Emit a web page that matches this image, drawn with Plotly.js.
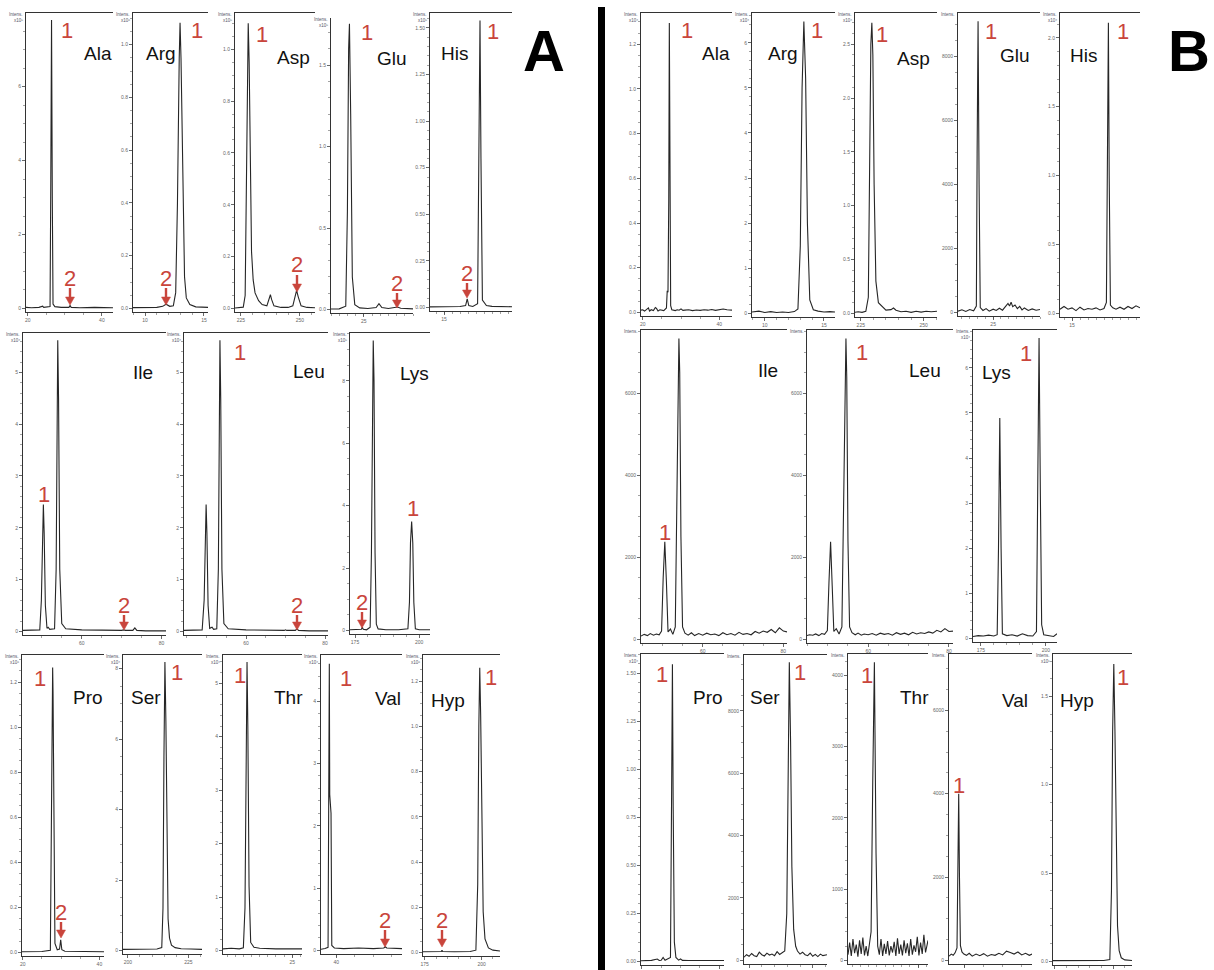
<!DOCTYPE html>
<html><head><meta charset="utf-8">
<script src="https://cdn.plot.ly/plotly-3.0.1.min.js"></script>
<style>html,body{margin:0;padding:0;background:#fff}#chart{width:1214px;height:970px}</style>
</head><body><div id="chart"></div>
<script>
// ---------- Panel A (sample) chromatogram data ----------
const aAlaX=[19.5,21,23,24,24.3,25,26.0,26.2,26.4,26.6,26.8,27.3,29,31.1,31.4,31.7,34,38,43];
const aAlaY=[0.03,0.02,0.03,0.06,0.03,0.03,0.05,3.5,7.8,3.0,0.12,0.05,0.03,0.03,0.08,0.03,0.02,0.03,0.02];
const aArgX=[8.98,10,11,11.5,11.78,12.1,12.4,12.6,12.75,12.9,12.97,13.05,13.2,13.35,13.5,13.8,14.3,15.34];
const aArgY=[0.003,0.003,0.004,0.008,0.016,0.008,0.01,0.06,0.4,0.95,1.083,0.95,0.45,0.12,0.04,0.015,0.006,0.004];
const aAspX=[222.5,224,226,226.8,227.4,227.8,228.1,228.5,229,229.5,230.2,231,232.5,234,236,237,237.5,238,239,242,245,247,248,248.6,249.3,250.5,253,256.4];
const aAspY=[0.002,0.003,0.005,0.05,0.5,1.0,1.10,0.95,0.5,0.22,0.11,0.06,0.03,0.015,0.01,0.035,0.053,0.035,0.01,0.004,0.004,0.01,0.045,0.07,0.045,0.01,0.004,0.003];
const aGluX=[21,22,22.8,23.0,23.15,23.25,23.4,23.6,23.9,24.5,25.5,26.5,26.85,27.2,28,28.8,29.1,29.5,31];
const aGluY=[0.003,0.004,0.02,0.6,1.6,1.755,1.2,0.2,0.03,0.01,0.006,0.012,0.036,0.012,0.006,0.01,0.015,0.008,0.004];
const aHisX=[13.25,15,17,17.7,17.9,18.1,18.6,19.2,19.38,19.5,19.62,19.8,20.3,21,23.5];
const aHisY=[0.003,0.004,0.005,0.01,0.046,0.01,0.005,0.02,0.8,1.54,0.8,0.04,0.01,0.006,0.004];
const aIleX=[45.3,48,49.5,49.9,50.2,50.4,50.6,50.9,51.3,51.6,52,53.2,53.6,53.85,54.0,54.2,54.5,55,56,60,65,70,70.5,71,72.8,73.3,73.8,76,81.1];
const aIleY=[0.02,0.02,0.03,0.6,1.9,2.45,1.9,0.5,0.06,0.08,0.04,0.05,1.2,4.5,5.62,4.5,1.2,0.15,0.05,0.03,0.02,0.02,0.03,0.02,0.02,0.07,0.02,0.01,0.01];
const aLeuX=[44.3,47,48.9,49.4,49.7,49.9,50.1,50.4,50.8,51.4,51.8,52.6,53.0,53.25,53.4,53.6,53.9,54.4,55.5,60,65,69.7,70,70.3,72.5,72.9,73.3,76,80.76];
const aLeuY=[0.02,0.02,0.03,0.6,1.9,2.45,1.9,0.5,0.06,0.08,0.04,0.05,1.2,4.5,5.62,4.5,1.2,0.15,0.05,0.03,0.02,0.02,0.03,0.02,0.02,0.05,0.02,0.01,0.01];
const aLysX=[173.05,176,177.5,177.85,178.2,179.5,180.9,181.4,181.8,182.1,182.4,182.8,183.3,184,187,192,195.6,196.2,196.6,197.05,197.5,197.9,198.5,200,204.2];
const aLysY=[0.02,0.02,0.04,0.1,0.04,0.02,0.1,2.5,8.0,9.29,8.0,2.5,0.2,0.05,0.02,0.02,0.05,0.9,2.8,3.49,2.8,0.9,0.05,0.02,0.02];
const aProX=[19.8,22,25,27.2,27.5,27.7,27.8,27.9,28.1,28.4,29,29.6,29.9,30.2,31,35,41.2];
const aProY=[0.003,0.003,0.004,0.01,0.5,1.15,1.264,1.15,0.5,0.04,0.012,0.015,0.056,0.012,0.005,0.004,0.003];
const aSerX=[198,203,208,212,214,214.5,214.9,215.3,215.7,216.1,216.6,217.2,218,219.5,222,226,230.6];
const aSerY=[0.03,0.03,0.03,0.04,0.08,1.2,5.5,8.19,6.5,3.0,0.9,0.35,0.15,0.08,0.05,0.04,0.03];
const aThrX=[16.5,17.5,18.5,19.0,19.2,19.35,19.45,19.55,19.7,19.9,20.3,21,23,26.2];
const aThrY=[0.03,0.04,0.03,0.05,0.8,4.0,5.40,4.2,1.2,0.15,0.06,0.04,0.03,0.03];
const aValX=[35.9,37,37.8,38.0,38.14,38.25,38.4,38.6,38.8,39.5,42,46,50,52.8,53.2,53.6,57.7];
const aValY=[0.02,0.03,0.05,2.0,4.6,2.5,2.3,2.2,0.08,0.04,0.03,0.04,0.03,0.04,0.06,0.04,0.03];
const aHypX=[174.25,180,182.3,182.6,182.9,188,195,197.5,198.3,198.8,199.2,199.6,200.1,200.7,201.5,203,205,208.1];
const aHypY=[0.003,0.003,0.004,0.01,0.004,0.003,0.004,0.01,0.3,1.0,1.26,1.05,0.55,0.18,0.06,0.02,0.01,0.006];

// ---------- Panel B (standard) chromatogram data ----------
const bAlaX=[19.56,20,20.5,21,21.5,21.8,22.2,22.8,23.3,23.6,24,24.5,25,25.5,26.2,26.4,26.6,26.8,26.95,27.1,27.3,27.6,28,28.5,29,29.5,30,30.5,31,32,33,34,35,36,37,38,39,40,41,42,43.3];
const bAlaY=[0.01,0.012,0.006,0.015,0.02,0.006,0.012,0.008,0.022,0.018,0.006,0.012,0.01,0.008,0.02,0.097,0.09,0.5,1.295,0.4,0.03,0.012,0.01,0.008,0.012,0.01,0.016,0.009,0.01,0.012,0.008,0.011,0.009,0.012,0.01,0.013,0.009,0.011,0.015,0.012,0.01];
const bArgX=[8.92,9.5,10,10.5,11,11.5,12,12.5,12.8,13.0,13.15,13.3,13.45,13.6,13.8,14.1,14.5,15,15.5,15.93];
const bArgY=[0.03,0.05,0.02,0.04,0.02,0.03,0.02,0.04,0.1,1.5,5.0,6.47,5.2,2.0,0.3,0.08,0.05,0.03,0.04,0.03];
const bAspX=[222.7,224,225.5,227,228,228.6,229.0,229.4,229.8,230.3,231,232,233.5,235,237,238,239,241,243,245,247,249,251,253,255.3];
const bAspY=[0.01,0.015,0.01,0.02,0.15,1.5,2.5,2.70,2.4,1.2,0.3,0.1,0.06,0.03,0.035,0.05,0.03,0.015,0.02,0.01,0.02,0.012,0.02,0.015,0.02];
const bGluX=[20.5,21,21.5,22,22.5,22.85,22.95,23.07,23.2,23.35,23.7,24.1,24.5,25,25.4,25.8,26.2,26.6,26.9,27.1,27.3,27.5,27.8,28.1,28.4,28.7,29,29.5,30,30.5,31];
const bGluY=[40,80,30,90,50,200,5000,9100,4000,150,60,120,40,100,60,130,70,180,280,200,320,180,230,120,190,80,140,60,110,70,90];
const bHisX=[13.5,14,14.5,15,15.5,16,16.5,17,17.5,18,18.5,19,19.3,19.45,19.55,19.65,19.8,20.1,20.5,21,21.5,22,22.5,23,23.5];
const bHisY=[0.03,0.05,0.03,0.04,0.02,0.045,0.025,0.035,0.03,0.04,0.025,0.035,0.08,1.2,2.11,1.0,0.06,0.04,0.03,0.045,0.03,0.05,0.035,0.055,0.04];
const bIleX=[44.7,45.5,46.3,47,47.8,48.5,49.2,49.8,50.2,50.6,51.0,51.4,52,52.6,53.2,53.6,53.9,54.1,54.3,54.6,55,55.6,56.4,57.2,58,59,60,61,62,63,64,65,66,67,68,69,70,71,72,73,74,75,76,77,78,79,80,80.9];
const bIleY=[80,120,90,140,100,130,110,200,1500,2380,1400,180,250,120,300,4000,6800,7340,6500,2500,300,150,100,160,90,140,100,150,110,130,90,160,110,140,100,170,120,140,110,190,150,200,170,240,160,280,200,180];
const bLeuX=[44.86,45.5,46.3,47,47.8,48.5,49.2,49.9,50.3,50.7,51.1,51.5,52.1,52.8,53.5,54.0,54.3,54.5,54.7,55.0,55.4,56,56.8,57.5,58.3,59,60,61,62,63,64,65,66,67,68,69,70,71,72,73,74,75,76,77,78,79,80,81.0];
const bLeuY=[90,110,100,130,90,140,120,210,1400,2380,1300,190,260,130,300,4000,6800,7340,6400,2400,300,160,110,150,100,130,110,140,100,150,120,140,100,160,120,150,110,170,130,160,140,180,150,220,180,260,190,200];
const bLysX=[172,174,176,178,180,181.3,181.8,182.3,182.8,183.3,185,187,189,191,193,195,196.4,196.9,197.4,197.9,198.4,199.2,201,203,204.3];
const bLysY=[0.04,0.06,0.05,0.07,0.05,0.08,2.0,4.89,2.0,0.1,0.06,0.08,0.05,0.1,0.06,0.05,0.15,3.0,6.66,3.2,0.3,0.08,0.06,0.04,0.1];
const bProX=[19.8,21,22.5,24,24.5,25,25.5,26,27.4,27.7,27.9,28.1,28.4,28.8,29.5,30,30.5,32,35,38,41.2];
const bProY=[0.003,0.004,0.005,0.012,0.004,0.005,0.02,0.005,0.02,0.9,1.546,0.8,0.1,0.02,0.006,0.012,0.005,0.004,0.005,0.004,0.004];
const bSerX=[198,199,200,201,202,203,204,205,206,207,208,209,210,211,212,213,214,214.8,215.3,215.8,216.3,216.8,217.5,218.3,219,220,221,222,223,224,225,226,227,228,229,230.6];
const bSerY=[100,180,130,220,150,120,260,180,140,230,170,200,150,280,190,240,300,1500,6500,9560,7000,3000,1000,450,300,200,260,180,150,230,130,190,120,200,150,180];
const bThrX=[16.5,16.7,16.9,17.1,17.3,17.5,17.7,17.9,18.1,18.3,18.5,18.7,18.9,19.1,19.3,19.5,19.7,19.9,20.1,20.3,20.5,20.7,20.9,21.1,21.3,21.5,21.7,21.9,22.1,22.3,22.5,22.7,22.9,23.1,23.3,23.5,23.7,23.9,24.1,24.3,24.5,24.7,24.9,25.1,25.3,25.5,25.7,25.9,26.2];
const bThrY=[80,250,60,300,100,220,50,280,90,320,70,200,60,250,400,2500,4183,1500,200,80,300,60,230,90,270,70,200,110,260,60,310,90,220,70,280,100,240,60,300,80,210,120,330,70,250,90,360,110,280];
const bValX=[35.9,36.5,37,37.5,38.0,38.25,38.45,38.65,38.9,39.3,39.8,40.5,41.2,42,43,44,45,46,47,48,49,50,51,52,53,54,55,56,57,57.7];
const bValY=[100,150,120,180,300,3000,4000,2000,350,200,150,120,170,100,150,110,160,100,140,120,170,130,220,190,150,200,130,170,120,150];
const bHypX=[174.25,180,186,192,196,198.6,199.3,199.8,200.3,200.8,201.3,201.9,202.6,203.5,205,208.1];
const bHypY=[0.004,0.004,0.005,0.004,0.005,0.01,0.4,1.3,1.683,1.3,0.6,0.2,0.06,0.02,0.008,0.005];

// ---------- figure construction ----------
const W=1214, H=970;
const F='"Liberation Sans", Arial, sans-serif';
const RED='#c9453c';
const panels=[
 {x:aAlaX,y:aAlaY,box:[26,113,13,312],xr:[19.5,43],top:7.99,xdt:20,xm:5,ydt:2,yf:'d',ym:0.5,ex:'⁵',name:['Ala',98,53],one:[67,30],two:[70,278,305]},
 {x:aArgX,y:aArgY,box:[133,208,13,312],xr:[8.98,15.34],top:1.12,xdt:5,xm:1,ydt:0.2,yf:'.1f',ym:0.05,ex:'⁶',name:['Arg',161,53],one:[197,31],two:[166,278,305]},
 {x:aAspX,y:aAspY,box:[235,315,13,312],xr:[222.5,256.4],top:1.14,xdt:25,xm:5,ydt:0.2,yf:'.1f',ym:0.05,ex:'⁵',name:['Asp',293,57],one:[262,35],two:[297,265,292]},
 {x:aGluX,y:aGluY,box:[331,413,18,313],xr:[21,31],top:1.79,xv:[25],xm:1,ydt:0.5,yf:'.1f',ym:0.1,ex:'⁵',noTop:true,name:['Glu',392,58],one:[367,33],two:[397,283,308]},
 {x:aHisX,y:aHisY,box:[430,512,13,311],xr:[13.25,23.5],top:1.58,xv:[15],xm:1,ydt:0.25,yf:'.2f',ym:0.05,ex:'⁵',name:['His',454,53],one:[493,32],two:[467,273,298]},
 {x:aIleX,y:aIleY,box:[23,166,333,635],xr:[45.3,81.1],top:5.76,xdt:20,xm:5,ydt:1,yf:'d',ym:0.2,ex:'⁴',name:['Ile',143,373],one:[44,495],two:[124,605,630]},
 {x:aLeuX,y:aLeuY,box:[184,328,333,635],xr:[44.3,80.76],top:5.76,xdt:20,xm:5,ydt:1,yf:'d',ym:0.2,ex:'⁴',name:['Leu',309,372],one:[240,352],two:[297,605,630]},
 {x:aLysX,y:aLysY,box:[350,430,333,634],xr:[173.05,204.2],top:9.53,xdt:25,xm:5,ydt:2,yf:'d',ym:0.5,ex:'⁵',name:['Lys',414,374],one:[413,508],two:[362,602,628]},
 {x:aProX,y:aProY,box:[22,104,655,956],xr:[19.8,41.2],top:1.32,xdt:20,xm:5,ydt:0.2,yf:'.1f',ym:0.05,ex:'⁶',name:['Pro',88,697],one:[40,678],two:[61,912,938]},
 {x:aSerX,y:aSerY,box:[123,202,655,954],xr:[198,230.6],top:8.39,xdt:25,xm:5,ydt:2,yf:'d',ym:0.5,ex:'⁴',name:['Ser',146,697],one:[177,672]},
 {x:aThrX,y:aThrY,box:[223,302,655,954],xr:[16.5,26.2],top:5.53,xv:[25],xm:1,ydt:1,yf:'d',ym:0.2,ex:'⁴',name:['Thr',288,697],one:[240,675]},
 {x:aValX,y:aValY,box:[321,402,655,954],xr:[35.9,57.7],top:4.74,xv:[40],xm:5,ydt:1,yf:'d',ym:0.2,ex:'⁴',name:['Val',388,698],one:[346,678],two:[385,920,947]},
 {x:aHypX,y:aHypY,box:[423,500,655,956],xr:[174.25,208.1],top:1.316,xdt:25,xm:5,ydt:0.2,yf:'.1f',ym:0.05,ex:'⁶',name:['Hyp',448,700],one:[491,677],two:[442,920,947]},
 {x:bAlaX,y:bAlaY,box:[641,732,13,316],xr:[19.56,43.3],top:1.34,xdt:20,xm:5,ydt:0.2,yf:'.1f',ym:0.05,ex:'⁴',name:['Ala',716,53],one:[687,30]},
 {x:bArgX,y:bArgY,box:[752,835,13,317],xr:[8.92,15.93],top:6.66,xdt:5,xm:1,ydt:1,yf:'d',ym:0.2,ex:'⁴',name:['Arg',783,53],one:[817,30]},
 {x:bAspX,y:bAspY,box:[855,937,13,317],xr:[222.7,255.3],top:2.79,xdt:25,xm:5,ydt:0.5,yf:'.1f',ym:0.1,ex:'⁴',name:['Asp',913,58],one:[882,35]},
 {x:bGluX,y:bGluY,box:[958,1040,13,316],xr:[20.5,31],top:9360,xv:[25],xm:1,ydt:2000,yf:'d',ym:500,ex:'',name:['Glu',1015,55],one:[991,32]},
 {x:bHisX,y:bHisY,box:[1060,1140,13,317],xr:[13.5,23.5],top:2.18,xv:[15],xm:1,ydt:0.5,yf:'.1f',ym:0.1,ex:'⁴',name:['His',1083,55],one:[1123,32]},
 {x:bIleX,y:bIleY,box:[641,787,330,643],xr:[44.7,80.9],top:7545,xdt:20,xm:5,ydt:2000,yf:'d',ym:500,ex:'',name:['Ile',768,370],one:[665,532]},
 {x:bLeuX,y:bLeuY,box:[807,953,330,643],xr:[44.86,81.0],top:7545,xdt:20,xm:5,ydt:2000,yf:'d',ym:500,ex:'',name:['Leu',925,370],one:[862,352]},
 {x:bLysX,y:bLysY,box:[973,1057,330,642],xr:[172,204.3],top:6.84,xdt:25,xm:5,ydt:1,yf:'d',ym:0.2,ex:'⁴',name:['Lys',997,373],one:[1026,353]},
 {x:bProX,y:bProY,box:[641,724,654,965],xr:[19.8,41.2],top:1.60,xdt:20,xm:5,ydt:0.25,yf:'.2f',ym:0.05,ex:'⁴',noXLab:true,name:['Pro',708,697],one:[662,674]},
 {x:bSerX,y:bSerY,box:[744,827,655,964],xr:[198,230.6],top:9790,xdt:25,xm:5,ydt:2000,yf:'d',ym:500,ex:'',noXLab:true,name:['Ser',765,697],one:[800,672]},
 {x:bThrX,y:bThrY,box:[848,928,654,964],xr:[16.5,26.2],top:4300,xv:[25],xm:1,ydt:1000,yf:'d',ym:200,ex:'',noXLab:true,name:['Thr',914,697],one:[867,675]},
 {x:bValX,y:bValY,box:[949,1032,654,964],xr:[35.9,57.7],top:7355,xv:[40],xm:5,ydt:2000,yf:'d',ym:500,ex:'',noXLab:true,name:['Val',1015,700],one:[959,785]},
 {x:bHypX,y:bHypY,box:[1053,1132,654,965],xr:[174.25,208.1],top:1.74,xdt:25,xm:5,ydt:0.5,yf:'.1f',ym:0.1,ex:'⁵',noXLab:true,name:['Hyp',1077,700],one:[1123,677]}
];

const PX=v=>v/W, PY=v=>1-v/H;
const traces=[];
const layout={width:W,height:H,margin:{l:0,r:0,t:0,b:0,pad:0},paper_bgcolor:'#ffffff',plot_bgcolor:'rgba(0,0,0,0)',
  showlegend:false,font:{family:F},annotations:[],shapes:[]};

panels.forEach((p,i)=>{
  const s=i===0?'':String(i+1);
  traces.push({type:'scatter',mode:'lines',x:p.x,y:p.y,xaxis:'x'+s,yaxis:'y'+s,
    line:{color:'#262626',width:1.1},hoverinfo:'skip'});
  const tf={size:5,color:'#666',family:F};
  const xa={domain:[PX(p.box[0]),PX(p.box[1])],anchor:'y'+s,range:p.xr,showline:true,linecolor:'#333',linewidth:1,
    mirror:p.noTop?false:true,ticks:'outside',ticklen:3,tickwidth:0.8,tickcolor:'#444',tickfont:tf,
    showticklabels:!p.noXLab,showgrid:false,zeroline:false,fixedrange:true,
    minor:{tickmode:'linear',tick0:0,dtick:p.xm,ticks:'outside',ticklen:2,tickwidth:0.6,tickcolor:'#666',showgrid:false}};
  if(p.xv){xa.tickmode='array';xa.tickvals=p.xv;xa.ticktext=p.xv.map(String);}
  else{xa.tickmode='linear';xa.tick0=0;xa.dtick=p.xdt;}
  const ya={domain:[PY(p.box[3]),PY(p.box[2])],anchor:'x'+s,range:[-0.012*p.top,p.top],showline:true,linecolor:'#333',linewidth:1,
    mirror:false,ticks:'outside',ticklen:3,tickwidth:0.8,tickcolor:'#444',tickfont:tf,tickmode:'linear',tick0:0,dtick:p.ydt,
    tickformat:p.yf,showgrid:false,zeroline:false,fixedrange:true,
    minor:{tickmode:'linear',tick0:0,dtick:p.ym,ticks:'outside',ticklen:2,tickwidth:0.6,tickcolor:'#666',showgrid:false}};
  layout['xaxis'+s]=xa; layout['yaxis'+s]=ya;

  // amino-acid name
  layout.annotations.push({xref:'paper',yref:'paper',x:PX(p.name[1]),y:PY(p.name[2]),text:p.name[0],showarrow:false,
    xanchor:'center',yanchor:'middle',font:{size:19,color:'#111',family:F}});
  // red peak label "1"
  layout.annotations.push({xref:'paper',yref:'paper',x:PX(p.one[0]),y:PY(p.one[1]),text:'1',showarrow:false,
    xanchor:'center',yanchor:'middle',font:{size:22,color:RED,family:F}});
  // red "2" with a downward arrow (shaft + head drawn as shapes)
  if(p.two){
    const [tx,ty,tip]=p.two;
    layout.annotations.push({xref:'paper',yref:'paper',x:PX(tx),y:PY(ty),text:'2',showarrow:false,
      xanchor:'center',yanchor:'middle',font:{size:22,color:RED,family:F}});
    layout.shapes.push({type:'line',xref:'paper',yref:'paper',x0:PX(tx),x1:PX(tx),y0:PY(ty+10),y1:PY(tip-6),
      line:{color:RED,width:2.4}});
    layout.shapes.push({type:'path',xref:'paper',yref:'paper',
      path:`M ${PX(tx-4.5)},${PY(tip-8)} L ${PX(tx+4.5)},${PY(tip-8)} L ${PX(tx)},${PY(tip)} Z`,
      fillcolor:RED,line:{color:RED,width:0.5}});
  }
  // instrument intensity caption
  layout.annotations.push({xref:'paper',yref:'paper',x:PX(p.box[0]-1),y:PY(p.box[2]-3),xanchor:'right',yanchor:'top',
    text:'Intens.',showarrow:false,font:{size:4.5,color:'#556',family:F}});
  if(p.ex){
    layout.annotations.push({xref:'paper',yref:'paper',x:PX(p.box[0]-1),y:PY(p.box[2]+3),xanchor:'right',yanchor:'top',
      text:'x10'+p.ex,showarrow:false,font:{size:4.5,color:'#556',family:F}});
  }
});

// panel letters
layout.annotations.push({xref:'paper',yref:'paper',x:PX(544),y:PY(50),text:'<b>A</b>',showarrow:false,xanchor:'center',yanchor:'middle',
  font:{size:58,color:'#000',family:F}});
layout.annotations.push({xref:'paper',yref:'paper',x:PX(1212),y:PY(50),text:'<b>B</b>',showarrow:false,xanchor:'right',yanchor:'middle',
  font:{size:58,color:'#000',family:F}});
// divider between A and B
layout.shapes.push({type:'line',xref:'paper',yref:'paper',x0:PX(601.5),x1:PX(601.5),y0:PY(970),y1:PY(7),line:{color:'#000',width:7}});

Plotly.newPlot('chart',traces,layout,{staticPlot:true,displayModeBar:false});
</script>
</body></html>
